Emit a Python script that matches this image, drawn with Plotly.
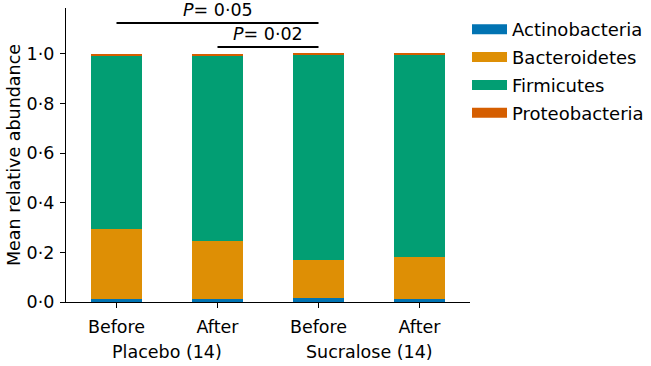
import plotly.graph_objects as go

conditions = ["Placebo Before", "Placebo After", "Sucralose Before", "Sucralose After"]
tick_labels = ["Before", "After", "Before", "After"]
group_labels = ["Placebo (14)", "Sucralose (14)"]
actinobacteria = [0.013, 0.012, 0.015, 0.011]
bacteroidetes = [0.282, 0.232, 0.155, 0.172]
proteobacteria = [0.005, 0.005, 0.004, 0.004]
firmicutes = [round(1 - a - b - p, 3) for a, b, p in zip(actinobacteria, bacteroidetes, proteobacteria)]
y_ticks = [0, 0.2, 0.4, 0.6, 0.8, 1.0]
y_tick_labels = ["0·0", "0·2", "0·4", "0·6", "0·8", "1·0"]
sig_pairs = [(0, 2), (1, 2)]
sig_heights = [1.125, 1.028]
sig_labels = ["<i>P</i>= 0·05", "<i>P</i>= 0·02"]

series = [
    ("Actinobacteria", actinobacteria, "#0173b2"),
    ("Bacteroidetes", bacteroidetes, "#de8f05"),
    ("Firmicutes", firmicutes, "#029e73"),
    ("Proteobacteria", proteobacteria, "#d55e00"),
]

FONT = "DejaVu Sans"
FS = 17.5
x = list(range(len(conditions)))

fig = go.Figure()
for name, vals, color in series:
    fig.add_trace(go.Bar(x=x, y=vals, name=name, width=0.5, legendgroup=name,
                         showlegend=False,
                         marker=dict(color=color, line=dict(width=0)),
                         hovertext=conditions))
# legend entries (wide patches like the reference)
for name, vals, color in series:
    fig.add_trace(go.Scatter(x=[None], y=[None], name=name, legendgroup=name,
                             mode="lines", line=dict(color=color, width=10)))

# significance brackets
for (x0, x1), yv, label in zip(sig_pairs, sig_heights, sig_labels):
    fig.add_shape(type="line", x0=x0, x1=x1, y0=yv, y1=yv, xref="x", yref="y",
                  line=dict(color="black", width=2))
    fig.add_annotation(x=(x0 + x1) / 2, y=yv, xref="x", yref="y",
                       text=label, showarrow=False, yanchor="bottom", yshift=1,
                       font=dict(family=FONT, size=FS, color="black"))

# group labels
for i, g in enumerate(group_labels):
    fig.add_annotation(x=2 * i + 0.5, y=0, xref="x", yref="paper", text=g,
                       showarrow=False, yanchor="middle", yshift=-50,
                       font=dict(family=FONT, size=FS, color="black"))

fig.update_layout(
    width=651, height=366,
    margin=dict(l=66, r=181, t=8, b=64, autoexpand=False),
    barmode="stack",
    plot_bgcolor="white", paper_bgcolor="white",
    font=dict(family=FONT, size=FS, color="black"),
    showlegend=True,
    legend=dict(x=0.9926, y=0.99, xanchor="left", yanchor="top", traceorder="grouped",
                font=dict(family=FONT, size=18), itemwidth=35, tracegroupgap=1.5,
                bgcolor="rgba(0,0,0,0)"),
    xaxis=dict(range=[-0.5, 3.5], tickvals=x, ticktext=tick_labels, showline=True,
               linecolor="black", linewidth=1.2, ticks="outside", ticklen=5,
               tickcolor="black", showgrid=False, zeroline=False, ticklabelstandoff=4,
               automargin=False),
    yaxis=dict(range=[0, 1.185], tickvals=y_ticks, ticktext=y_tick_labels, showline=True,
               linecolor="black", linewidth=1.2, ticks="outside", ticklen=5,
               tickcolor="black", showgrid=False, zeroline=False, automargin=False,
               ticklabelstandoff=2,
               title=dict(text="Mean relative abundance", font=dict(family=FONT, size=FS),
                          standoff=1)),
)

fig.write_html("out.html", config={"displayModeBar": False},
               post_script="document.body.style.margin='0';")
